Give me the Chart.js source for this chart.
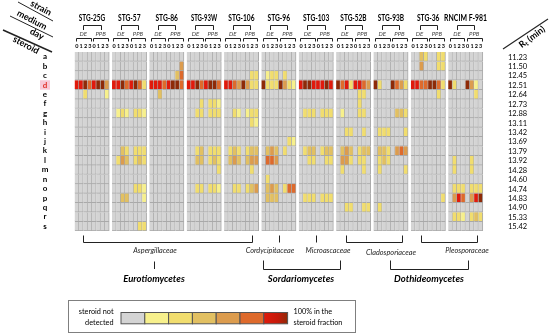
<!DOCTYPE html>
<html>
<head>
<meta charset="utf-8">
<script src="https://cdn.jsdelivr.net/npm/chart.js@4.4.0/dist/chart.umd.min.js"></script>
<style>
  html, body { margin: 0; padding: 0; background: #fff; }
  #wrap { width: 550px; height: 334px; position: relative; }
</style>
</head>
<body>
<div id="wrap"><canvas id="heatmap"></canvas></div>
<script>
const strains = ['STG-25G', 'STG-57', 'STG-86', 'STG-93W', 'STG-106', 'STG-96', 'STG-103', 'STG-52B', 'STG-93B', 'STG-36', 'RNCIM F-981'];
const media = ['DE', 'PPB'];
const days = ['0', '1', '2', '3'];
const steroids = ['a', 'b', 'c', 'd', 'e', 'f', 'g', 'h', 'i', 'j', 'k', 'l', 'm', 'n', 'o', 'p', 'q', 'r', 's'];
const rtMin = ['11.23', '11.50', '12.45', '12.51', '12.64', '12.73', '12.88', '13.11', '13.42', '13.69',
               '13.79', '13.92', '14.28', '14.60', '14.74', '14.83', '14.90', '15.33', '15.42'];

// share level per steroid row (a..s): DE day 0-3, then PPB day 0-3
// 0 = not detected ... 7 = dark red (100%)
const stg25G = ['00000000', '00000000', '00000000', '66756774', '00200001', '00000000', '00000000', '00000000', '00000000', '00000000',
                '00000000', '00000000', '00000000', '00000000', '00000000', '00000000', '00000000', '00000000', '00000000'];
const stg57  = ['00000000', '00000000', '00000000', '66756752', '00000000', '00000000', '01210221', '00000000', '00000000', '00000000',
                '00320222', '02430232', '00000000', '00000000', '00000221', '00330001', '00000000', '00000000', '00000022'];
const stg86  = ['00000000', '00000004', '00000035', '66656775', '00300000', '00000000', '00000000', '00000000', '00000000', '00000000',
                '00000000', '00000000', '00000000', '00000000', '00000000', '00000000', '00000000', '00000000', '00000000'];
const stg93W = ['00000000', '00000000', '00000000', '66756775', '00000000', '00020221', '00220222', '00000000', '00000000', '00000000',
                '00230222', '00330232', '00000002', '00000000', '00220221', '00000000', '00000000', '00000000', '00000000'];
const stg106 = ['00000000', '00000000', '00000022', '66547422', '00000000', '00000000', '00210122', '00000021', '00000000', '00000000',
                '02320233', '03430344', '00000020', '00000000', '00220234', '00000000', '00000000', '00000000', '00000000'];
const stg96  = ['00000000', '00000000', '01220200', '72227421', '00000000', '00000000', '00000000', '00000000', '00000000', '00000021',
                '03430200', '05540000', '00000000', '02000000', '03430255', '03330000', '00000000', '00000000', '00000000'];
const stg103 = ['00000000', '00000000', '00000000', '67766676', '00000000', '00000000', '02220222', '00000000', '00000000', '00000000',
                '02330233', '00220022', '00000000', '00000000', '00000000', '02220222', '00000000', '00000000', '00000000'];
const stg52B = ['00000000', '00000000', '00000000', '75626654', '00000220', '00000200', '01000220', '00000000', '00220020', '00000000',
                '03430233', '04420220', '02000020', '00000000', '00000000', '00000000', '00220022', '00000000', '00000000'];
const stg93B = ['00000000', '00000000', '00000000', '72007542', '00000000', '00000000', '00000332', '00000000', '02220002', '00000000',
                '03320454', '02320000', '02000002', '00000000', '00000000', '00000000', '02000000', '00000000', '00000000'];
const stg36  = ['00320022', '00400022', '00000000', '66557752', '00000020', '00000000', '00000000', '00000000', '00000000', '00000000',
                '00000000', '00000000', '00000000', '00000000', '00000000', '00000002', '00000000', '00000000', '00000000'];
const rncim  = ['00000000', '00000000', '00000000', '72007410', '00000020', '00000000', '00000000', '00000000', '00000000', '00000000',
                '00000000', '02000200', '02000200', '00000000', '02220222', '04650467', '00000000', '02210232', '00000000'];

const families = ['Aspergillaceae', 'Cordycipitaceae', 'Microascaceae', 'Cladosporiaceae', 'Pleosporaceae'];
const classes = ['Eurotiomycetes', 'Sordariomycetes', 'Dothideomycetes'];

const levelColors = ['#d4d4d4', '#f7f08c', '#f1dd6e', '#e2c062', '#dc9c4e', '#de6a2c', '#e01a0c', '#8e2a08'];

const blocks = [stg25G, stg57, stg86, stg93W, stg106, stg96, stg103, stg52B, stg93B, stg36, rncim];
const pitch = 8.646;           // one strain block (8 columns) plus the white gap
const colX = (b, c) => b * pitch + c + 0.5;

const datasets = steroids.map((s, r) => {
  const data = [], colors = [];
  blocks.forEach((blk, b) => {
    blk[r].split('').forEach((v, c) => {
      data.push({ x: colX(b, c), y: [r, r + 1] });
      colors.push(levelColors[+v]);
    });
  });
  return {
    label: s,
    data: data,
    backgroundColor: colors,
    borderColor: '#a9a9a9',
    borderWidth: { top: 0, left: 0, right: 1, bottom: 1 },
    borderSkipped: false,
    grouped: false,
    barPercentage: 1,
    categoryPercentage: 1
  };
});

function text(ctx, s, x, y, font, color, align, maxW) {
  ctx.font = font;
  ctx.fillStyle = color || '#000';
  ctx.textAlign = align || 'center';
  ctx.textBaseline = 'middle';
  if (maxW) ctx.fillText(s, x, y, maxW); else ctx.fillText(s, x, y);
}

function bracket(ctx, x1, x2, yLine, yEnd) {
  ctx.beginPath();
  ctx.moveTo(x1, yEnd);
  ctx.lineTo(x1, yLine);
  ctx.lineTo(x2, yLine);
  ctx.lineTo(x2, yEnd);
  ctx.stroke();
}

function vline(ctx, x, y1, y2) {
  ctx.beginPath();
  ctx.moveTo(x, y1);
  ctx.lineTo(x, y2);
  ctx.stroke();
}

const labelsPlugin = {
  id: 'labels',
  afterDraw(chart) {
    const ctx = chart.ctx;
    const xs = chart.scales.x, ys = chart.scales.y;
    const px = v => Math.round(xs.getPixelForValue(v)) + 0.5;
    const py = v => ys.getPixelForValue(v);
    const F = "Lato, 'Liberation Sans', sans-serif";
    ctx.save();
    ctx.strokeStyle = '#222';
    ctx.lineWidth = 1;

    // column header: strain / medium / day
    strains.forEach((name, b) => {
      const x0 = b * pitch;
      text(ctx, name, xs.getPixelForValue(x0 + 4), 18, 'bold 8.5px ' + F, '#000', 'center', name.length > 8 ? 43 : name.length * 3.75);
      bracket(ctx, px(x0 + 2), px(x0 + 6), 25.5, 30);
      media.forEach((m, k) => {
        const mx = x0 + 4 * k;
        text(ctx, m, xs.getPixelForValue(mx + 2), 34, 'italic 6px ' + F, '#444');
        bracket(ctx, px(mx + 0.3), px(mx + 3.7), 38.5, 41.5);
        days.forEach((d, c) => text(ctx, d, xs.getPixelForValue(mx + c + 0.5), 46.5, 'bold 5.5px ' + F, '#000'));
      });
    });

    // row labels and retention times
    steroids.forEach((s, r) => {
      const y = py(r + 0.5);
      if (s === 'd') {
        ctx.fillStyle = '#f7c8d8';
        ctx.fillRect(40, ys.getPixelForValue(r), 10, ys.getPixelForValue(r + 1) - ys.getPixelForValue(r));
      }
      text(ctx, s, 45, y, 'bold 8px ' + F, s === 'd' ? '#e0302a' : '#000');
      text(ctx, rtMin[r], 508, y + 0.5, '7.5px ' + F, '#000', 'left');
    });

    // diagonal corner header
    ctx.lineWidth = 1;
    ctx.beginPath(); ctx.moveTo(18, 2); ctx.lineTo(53, 21); ctx.stroke();
    ctx.beginPath(); ctx.moveTo(10, 16); ctx.lineTo(53, 37); ctx.stroke();
    ctx.lineWidth = 1.5;
    ctx.beginPath(); ctx.moveTo(3, 30); ctx.lineTo(52, 52); ctx.stroke();
    const diag = [['strain', 41, 8], ['medium', 32, 20], ['day', 37, 34], ['steroid', 26, 45]];
    diag.forEach(([s, x, y]) => {
      ctx.save();
      ctx.translate(x, y);
      ctx.rotate(28 * Math.PI / 180);
      text(ctx, s, 0, 0, 'bold 9px ' + F, '#000');
      ctx.restore();
    });
    ctx.lineWidth = 1.2;
    ctx.beginPath(); ctx.moveTo(503, 49); ctx.lineTo(548, 19); ctx.stroke();
    ctx.save();
    ctx.translate(532, 37);
    ctx.rotate(-37 * Math.PI / 180);
    ctx.font = 'bold 9px ' + F;
    const wR = ctx.measureText('R').width;
    const wRest = ctx.measureText(' (min)').width;
    ctx.font = 'bold 6px ' + F;
    const wT = ctx.measureText('t').width;
    const x0 = -(wR + wT + wRest) / 2;
    text(ctx, 'R', x0, 0, 'bold 9px ' + F, '#000', 'left');
    text(ctx, 't', x0 + wR, 2.5, 'bold 6px ' + F, '#000', 'left');
    text(ctx, ' (min)', x0 + wR + wT, 0, 'bold 9px ' + F, '#000', 'left');
    ctx.restore();

    // taxonomy annotations below the grid
    ctx.lineWidth = 1;
    ctx.strokeStyle = '#222';
    const bx = (b, c) => px(b * pitch + c);
    bracket(ctx, bx(0, 2), bx(4, 6.5), 242.5, 235.5);
    vline(ctx, bx(5, 4), 235.5, 242.5);
    vline(ctx, bx(6, 4), 235.5, 242.5);
    bracket(ctx, bx(7, 2.3), bx(8, 6.5), 242.5, 235.5);
    bracket(ctx, bx(9, 2.3), bx(10, 6.6), 242.5, 235.5);
    const famFont = 'italic 7.3px ' + F;
    text(ctx, families[0], 155, 251, famFont, '#222');
    text(ctx, families[1], 270, 251, famFont, '#222');
    text(ctx, families[2], 328, 251, famFont, '#222');
    text(ctx, families[3], 391, 252.5, famFont, '#222');
    text(ctx, families[4], 467, 251, famFont, '#222');

    vline(ctx, 154.5, 261.5, 269);
    bracket(ctx, 263.5, 340.5, 269.5, 260.5);
    bracket(ctx, 390.5, 468.5, 269.5, 260.5);
    const clsFont = 'italic bold 9.5px ' + F;
    text(ctx, classes[0], 154, 279, clsFont, '#000');
    text(ctx, classes[1], 301, 279, clsFont, '#000');
    text(ctx, classes[2], 429, 279, clsFont, '#000');

    // colour scale legend
    ctx.strokeStyle = '#7f7f7f';
    ctx.strokeRect(68.5, 300.5, 287, 32);
    text(ctx, 'steroid not', 113.5, 311.5, '7.3px ' + F, '#000', 'right');
    text(ctx, 'detected', 113.5, 322.5, '7.3px ' + F, '#000', 'right');
    text(ctx, '100% in the', 293.5, 311.5, '7.3px ' + F, '#000', 'left');
    text(ctx, 'steroid fraction', 293.5, 322.5, '7.3px ' + F, '#000', 'left');
    const sw = 23.8, sx = 121, sy = 312.5, sh = 11.3;
    for (let i = 0; i < 7; i++) {
      if (i < 6) {
        ctx.fillStyle = levelColors[i];
      } else {
        const g = ctx.createLinearGradient(sx + sw * i, 0, sx + sw * (i + 1), 0);
        g.addColorStop(0, levelColors[6]);
        g.addColorStop(0.6, '#c41a0a');
        g.addColorStop(1, levelColors[7]);
        ctx.fillStyle = g;
      }
      ctx.fillRect(sx + sw * i, sy, sw, sh);
      ctx.strokeStyle = '#555';
      ctx.strokeRect(sx + sw * i, sy, sw, sh);
    }
    ctx.restore();
  }
};

new Chart(document.getElementById('heatmap'), {
  type: 'bar',
  data: { datasets: datasets },
  options: {
    responsive: true,
    maintainAspectRatio: false,
    animation: false,
    layout: { padding: { left: 52, right: 44.5, top: 52, bottom: 103 } },
    scales: {
      x: { type: 'linear', display: false, min: 0, max: 10 * pitch + 8 },
      y: { type: 'linear', display: false, min: 0, max: 19, reverse: true }
    },
    plugins: {
      legend: { display: false },
      tooltip: { enabled: false }
    }
  },
  plugins: [labelsPlugin]
});
</script>
</body>
</html>
